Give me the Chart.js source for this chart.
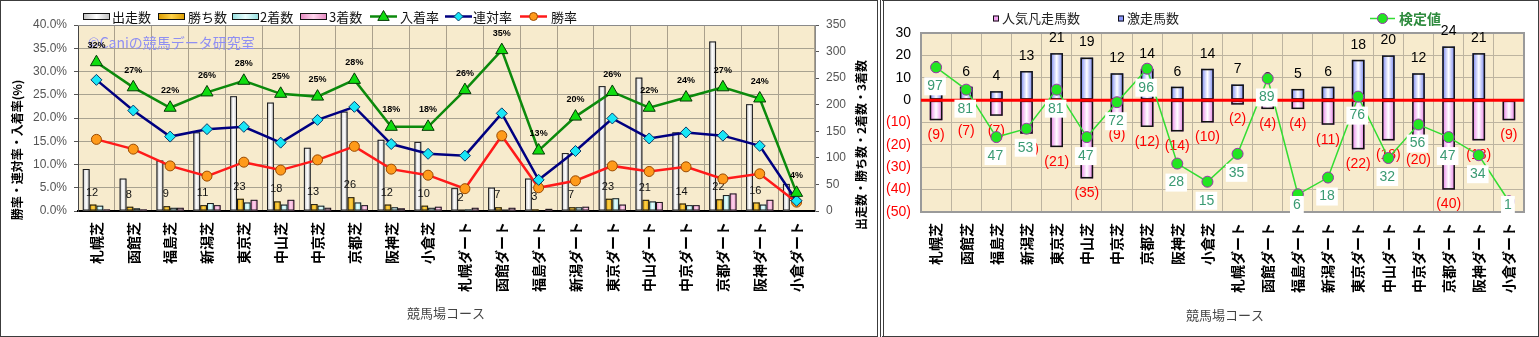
<!DOCTYPE html>
<html lang="ja">
<head>
<meta charset="utf-8">
<title>競馬場コース別成績</title>
<script src="https://cdn.jsdelivr.net/npm/chart.js@4.4.1/dist/chart.umd.min.js"></script>
<style>
  html, body { margin: 0; padding: 0; background: #fff; }
  body { width: 1539px; height: 337px; position: relative; overflow: hidden; }
  .panel { position: absolute; top: 0; box-sizing: border-box; height: 337px; border: 1px solid #3c3c3c; }
  #panelLeft { left: 0; width: 878px; }
  #panelRight { left: 880px; width: 659px; border-left: 4px double #3c3c3c; }
  canvas { display: block; }
</style>
</head>
<body>
<div class="panel" id="panelLeft"><canvas id="chartLeft" width="876" height="335"></canvas></div>
<div class="panel" id="panelRight"><canvas id="chartRight" width="654" height="335"></canvas></div>

<script>
const courses = ['札幌芝', '函館芝', '福島芝', '新潟芝', '東京芝', '中山芝', '中京芝', '京都芝', '阪神芝', '小倉芝',
  '札幌ダート', '函館ダート', '福島ダート', '新潟ダート', '東京ダート', '中山ダート', '中京ダート', '京都ダート', '阪神ダート', '小倉ダート'];

// 出走数・着別回数（右軸）
const starts  = [79, 61, 95, 148, 216, 204, 119, 187, 134, 130, 43, 44, 61, 109, 235, 251, 148, 319, 201, 51];
const wins    = [12, 8, 9, 11, 23, 18, 13, 26, 12, 10, 2, 7, 3, 7, 23, 21, 14, 22, 16, 1];
const seconds = [10, 5, 6, 15, 16, 12, 10, 16, 7, 6, 3, 2, 1, 7, 24, 18, 11, 30, 12, 0];
const thirds  = [3, 3, 6, 11, 21, 21, 6, 11, 5, 8, 6, 6, 4, 8, 12, 17, 11, 33, 21, 1];

// 勝率・連対率・入着率（左軸, %）
const placeRate    = [32.0, 26.6, 22.2, 25.5, 28.0, 25.2, 24.6, 28.2, 18.1, 18.1, 26.0, 34.6, 13.0, 20.3, 25.6, 22.2, 24.4, 26.6, 24.2, 3.9];
const quinellaRate = [28.2, 21.6, 16.0, 17.6, 18.1, 14.7, 19.6, 22.4, 14.4, 12.3, 11.9, 21.0, 6.7, 12.9, 19.9, 15.6, 16.9, 16.2, 14.0, 2.2];
const winRate      = [15.4, 13.3, 9.7, 7.5, 10.5, 8.8, 11.0, 13.9, 9.0, 7.7, 4.8, 16.2, 5.0, 6.5, 9.7, 8.5, 9.5, 6.9, 8.0, 1.9];

// 人気凡走馬数（マイナス表示）・激走馬数・検定値
const popularFlops = [-9, -7, -7, -15, -21, -35, -9, -12, -14, -10, -2, -4, -4, -11, -22, -18, -20, -40, -18, -9];
const longshots    = [8, 6, 4, 13, 21, 19, 12, 14, 6, 14, 7, 3, 5, 6, 18, 20, 12, 24, 21, 0];
const testValues   = [97, 81, 47, 53, 81, 47, 72, 96, 28, 15, 35, 89, 6, 18, 76, 32, 56, 47, 34, 1];

// 軸の目盛り
const rateAxis  = { min: 0, max: 40, step: 5 };
const countAxis = { min: 0, max: 350, step: 50 };
const horseAxis = { min: -50, max: 30, step: 10 };
const testAxis  = { min: -6.7, max: 121.6 };

const JP = "'Noto Sans CJK JP', sans-serif";
const LAT = "'Liberation Sans', Arial, sans-serif";
const PLOT_BG = '#f7ebcd';

Chart.defaults.animation = false;
Chart.defaults.font.family = JP;

// ---- 共通プラグイン ----
const plotBg = {
  id: 'plotBg',
  beforeDraw(chart) {
    const { ctx, chartArea: a } = chart;
    ctx.save();
    ctx.fillStyle = PLOT_BG;
    ctx.fillRect(a.left, a.top, a.right - a.left, a.bottom - a.top);
    ctx.restore();
  }
};

// 円柱風のグラデーションで棒を塗り直す
const cylinderBars = {
  id: 'cylinderBars',
  afterDatasetDraw(chart, args) {
    const ds = chart.data.datasets[args.index];
    if (!ds.gradient) return;
    const c = chart.ctx;
    c.save();
    args.meta.data.forEach(bar => {
      const { x, y, base, width } = bar.getProps(['x', 'y', 'base', 'width'], true);
      const h = Math.abs(base - y);
      if (h < 0.5) return;
      const left = x - width / 2, top = Math.min(y, base);
      const g = c.createLinearGradient(left, 0, left + width, 0);
      g.addColorStop(0, ds.gradient[0]);
      g.addColorStop(0.5, ds.gradient[1]);
      g.addColorStop(1, ds.gradient[0]);
      c.fillStyle = g;
      c.fillRect(left, top, width, h);
      c.lineWidth = ds.borderWidth;
      c.strokeStyle = ds.borderColor;
      const o = ds.borderWidth / 2;
      c.strokeRect(left + o, top + o, width - 2 * o, h - 2 * o);
    });
    c.restore();
  }
};

function marker(c, style, x, y, r, fill, stroke) {
  c.save();
  c.fillStyle = fill;
  c.strokeStyle = stroke;
  c.lineWidth = 1;
  c.beginPath();
  if (style === 'triangle') {
    c.moveTo(x, y - r);
    c.lineTo(x + r * 0.95, y + r * 0.65);
    c.lineTo(x - r * 0.95, y + r * 0.65);
    c.closePath();
  } else if (style === 'rectRot') {
    c.moveTo(x, y - r); c.lineTo(x + r, y); c.lineTo(x, y + r); c.lineTo(x - r, y); c.closePath();
  } else {
    c.arc(x, y, r, 0, Math.PI * 2);
  }
  c.fill();
  c.stroke();
  c.restore();
}

function text(c, str, x, y, font, color, align = 'left', rot = 0) {
  c.save();
  c.font = font;
  c.fillStyle = color;
  c.textAlign = align;
  c.textBaseline = 'middle';
  c.translate(x, y);
  if (rot) c.rotate(rot);
  c.fillText(str, 0, 0);
  c.restore();
}

// ---- 左：出走数と各率 ----
const leftLegend = [
  { x: 82, tx: 111 }, { x: 157, tx: 187 }, { x: 231, tx: 259 }, { x: 299, tx: 328 },
  { x: 369, tx: 399 }, { x: 444, tx: 472 }, { x: 519, tx: 550 }
];

const leftDecor = {
  id: 'leftDecor',
  beforeDatasetsDraw(chart) {
    const { ctx, chartArea: a } = chart;
    ctx.save();
    ctx.strokeStyle = '#8a8a8a';
    ctx.lineWidth = 1;
    ctx.beginPath();
    ctx.moveTo(a.left, a.top + 0.5); ctx.lineTo(a.right + 0.5, a.top + 0.5);
    ctx.lineTo(a.right + 0.5, a.bottom);
    ctx.stroke();
    ctx.restore();
    text(ctx, '©Caniの競馬データ研究室', 87, 42, `14px ${JP}`, '#8f8ff2');
  },
  afterDatasetDraw(chart, args) {
    // 最後の棒（出走数）を描いた後に勝ち数のラベル
    if (args.index !== 0) return;
    const meta = chart.getDatasetMeta(1);
    meta.data.forEach((el, i) => {
      text(chart.ctx, String(wins[i]), el.x - 1, el.y - 12, `11px ${LAT}`, '#111', 'center');
    });
  },
  afterDatasetsDraw(chart) {
    const meta = chart.getDatasetMeta(4);
    meta.data.forEach((el, i) => {
      text(chart.ctx, Math.round(placeRate[i]) + '%', el.x, el.y - 17, `bold 9px ${LAT}`, '#000', 'center');
    });
  },
  afterDraw(chart) {
    const c = chart.ctx;
    const y = 15.5;
    chart.data.datasets.forEach((ds, i) => {
      const p = leftLegend[i];
      if (ds.type === 'bar') {
        const g = c.createLinearGradient(p.x, 0, p.x + 27, 0);
        g.addColorStop(0, ds.gradient[0]); g.addColorStop(0.5, ds.gradient[1]); g.addColorStop(1, ds.gradient[0]);
        c.fillStyle = g;
        c.fillRect(p.x, y - 3.5, 27, 7);
        c.strokeStyle = '#111';
        c.lineWidth = 1;
        c.strokeRect(p.x + 0.5, y - 3, 26, 6);
      } else {
        c.save();
        c.strokeStyle = ds.borderColor;
        c.lineWidth = 2.5;
        c.beginPath(); c.moveTo(p.x, y); c.lineTo(p.x + 27, y); c.stroke();
        c.restore();
        marker(c, ds.pointStyle, p.x + 13.5, y, ds.pointRadius - 1, ds.pointBackgroundColor, ds.pointBorderColor);
      }
      text(c, ds.label, p.tx, y + 0.5, `13px ${JP}`, '#111');
    });
    text(c, '勝率・連対率・入着率(%)', 16, 149, `bold 12px ${JP}`, '#000', 'center', -Math.PI / 2);
    text(c, '出走数・勝ち数・2着数・3着数', 860, 144, `bold 12px ${JP}`, '#000', 'center', -Math.PI / 2);
    text(c, '競馬場コース', 445, 312, `13px ${JP}`, '#444', 'center');
  }
};

const barStyle = { borderColor: '#1a1a1a', borderWidth: 1, borderSkipped: false, yAxisID: 'y1', order: 1 };
const lineStyle = { type: 'line', yAxisID: 'y', borderWidth: 2.5, tension: 0, order: 0, pointBorderWidth: 1 };

new Chart(document.getElementById('chartLeft'), {
  type: 'bar',
  data: {
    labels: courses,
    datasets: [
      { ...barStyle, type: 'bar', label: '出走数', data: starts, backgroundColor: '#f2f2f2', gradient: ['#bdbdbd', '#ffffff'] },
      { ...barStyle, type: 'bar', label: '勝ち数', data: wins, backgroundColor: '#f0b400', gradient: ['#d99a00', '#ffd24a'] },
      { ...barStyle, type: 'bar', label: '2着数', data: seconds, backgroundColor: '#bff4f4', gradient: ['#92dede', '#eaffff'] },
      { ...barStyle, type: 'bar', label: '3着数', data: thirds, backgroundColor: '#f3a6d4', gradient: ['#e486bf', '#ffd6ee'] },
      { ...lineStyle, label: '入着率', data: placeRate, borderColor: '#0c8a0c', pointStyle: 'triangle', pointRadius: 7,
        pointBackgroundColor: '#10dd10', pointBorderColor: '#053805' },
      { ...lineStyle, label: '連対率', data: quinellaRate, borderColor: '#000080', pointStyle: 'rectRot', pointRadius: 5.5,
        pointBackgroundColor: '#18e6f6', pointBorderColor: '#0a3a6a' },
      { ...lineStyle, label: '勝率', data: winRate, borderColor: '#ff1a1a', pointStyle: 'circle', pointRadius: 5,
        pointBackgroundColor: '#ff9a1a', pointBorderColor: '#9a4a00' }
    ]
  },
  options: {
    responsive: false,
    layout: { padding: { top: 24, left: 0, right: 0, bottom: 0 } },
    datasets: { bar: { categoryPercentage: 0.74, barPercentage: 1 } },
    plugins: { legend: { display: false }, tooltip: { enabled: false } },
    scales: {
      x: {
        afterFit: s => { s.height = 125; },
        grid: { color: '#aaa08c', borderDash: [2, 2], drawTicks: false },
        border: { color: '#000', width: 2 },
        ticks: { minRotation: 90, maxRotation: 90, autoSkip: false, padding: 11, color: '#000',
          font: { family: JP, size: 14, weight: 'bold' } }
      },
      y: {
        position: 'left',
        min: rateAxis.min, max: rateAxis.max,
        afterFit: s => { s.width = 77; },
        grid: { color: '#a8a290', borderDash: [3, 2], tickLength: 4, tickColor: '#555', tickBorderDash: [] },
        border: { color: '#444', width: 1 },
        ticks: { stepSize: rateAxis.step, padding: 7, color: '#555', font: { family: LAT, size: 12 },
          callback: v => v.toFixed(1) + '%' }
      },
      y1: {
        position: 'right',
        min: countAxis.min, max: countAxis.max,
        afterFit: s => { s.width = 62; },
        grid: { drawOnChartArea: false, tickLength: 4, tickColor: '#555' },
        border: { color: '#8a8a8a', width: 1 },
        ticks: { stepSize: countAxis.step, padding: 7, color: '#555', font: { family: LAT, size: 12 } }
      }
    }
  },
  plugins: [plotBg, cylinderBars, leftDecor]
});

// ---- 右：人気凡走・激走と検定値 ----
const rightDecor = {
  id: 'rightDecor',
  beforeDatasetsDraw(chart) {
    const { ctx, chartArea: a } = chart;
    ctx.save();
    ctx.strokeStyle = '#9a9a9a';
    ctx.lineWidth = 2;
    ctx.strokeRect(a.left, a.top, a.right - a.left, a.bottom - a.top);
    ctx.restore();
  },
  beforeDatasetDraw(chart, args) {
    // 棒を描き終えたところでゼロ線と棒のラベル
    if (args.index !== 0) return;
    const { ctx, chartArea: a, scales } = chart;
    const y0 = scales.y.getPixelForValue(0);
    ctx.save();
    ctx.strokeStyle = '#ff0000';
    ctx.lineWidth = 3;
    ctx.beginPath(); ctx.moveTo(a.left, y0); ctx.lineTo(a.right, y0); ctx.stroke();
    ctx.restore();
    chart.getDatasetMeta(1).data.forEach((el, i) => {
      text(ctx, '(' + Math.abs(popularFlops[i]) + ')', el.x, el.y + 15, `14px ${LAT}`, '#ff0000', 'center');
    });
    chart.getDatasetMeta(2).data.forEach((el, i) => {
      if (longshots[i] > 0) text(ctx, String(longshots[i]), el.x, el.y - 15, `14px ${LAT}`, '#000', 'center');
    });
  },
  afterDatasetsDraw(chart) {
    const c = chart.ctx;
    c.save();
    c.font = `14px ${LAT}`;
    chart.getDatasetMeta(0).data.forEach((el, i) => {
      const s = String(testValues[i]);
      const w = c.measureText(s).width;
      const y = Math.min(el.y + 19, 204);
      c.fillStyle = '#ffffff';
      c.fillRect(el.x - 1 - w / 2 - 3, y - 9, w + 6, 18);
      text(c, s, el.x - 1, y, `14px ${LAT}`, '#3a9a72', 'center');
    });
    c.restore();
  },
  afterDraw(chart) {
    const c = chart.ctx;
    const y = 17.5;
    const sq = (x, fill) => {
      c.fillStyle = fill; c.fillRect(x, y - 3, 6, 6);
      c.strokeStyle = '#111'; c.lineWidth = 1; c.strokeRect(x + 0.5, y - 2.5, 5, 5);
    };
    sq(109, '#f2a0f2');
    text(c, '人気凡走馬数', 118, y, `13px ${JP}`, '#222');
    sq(234, '#8c98ff');
    text(c, '激走馬数', 243, y, `13px ${JP}`, '#222');
    c.save();
    c.strokeStyle = '#33dd33'; c.lineWidth = 1.5;
    c.beginPath(); c.moveTo(486, y); c.lineTo(511, y); c.stroke();
    c.restore();
    marker(c, 'circle', 498.5, y, 5, '#22e622', '#9933aa');
    text(c, '検定値', 515, y, `bold 14px ${JP}`, '#2e8b3e');
    text(c, '競馬場コース', 341, 314, `13px ${JP}`, '#444', 'center');
  }
};

new Chart(document.getElementById('chartRight'), {
  type: 'bar',
  data: {
    labels: courses,
    datasets: [
      { type: 'line', label: '検定値', data: testValues, yAxisID: 'y2', order: 0, tension: 0,
        borderColor: '#33dd33', borderWidth: 1.5, pointRadius: 5.5,
        pointBackgroundColor: '#22e622', pointBorderColor: '#9933aa', pointBorderWidth: 1 },
      { type: 'bar', label: '人気凡走馬数', data: popularFlops, yAxisID: 'y', order: 1,
        backgroundColor: '#f2a0f2', borderColor: '#111', borderWidth: 1.5, borderSkipped: false,
        gradient: ['#e77ce7', '#ffffff'] },
      { type: 'bar', label: '激走馬数', data: longshots, yAxisID: 'y', order: 1,
        backgroundColor: '#8c98ff', borderColor: '#111', borderWidth: 1.5, borderSkipped: false,
        gradient: ['#6f7ff2', '#ffffff'] }
    ]
  },
  options: {
    responsive: false,
    layout: { padding: { top: 32, left: 0, right: 14, bottom: 0 } },
    datasets: { bar: { categoryPercentage: 1, barPercentage: 0.42 } },
    plugins: { legend: { display: false }, tooltip: { enabled: false } },
    scales: {
      x: {
        stacked: true,
        afterFit: s => { s.height = 124; },
        grid: { color: '#bdb4a0', borderDash: [2, 2], drawTicks: false },
        border: { display: false },
        ticks: { minRotation: 90, maxRotation: 90, autoSkip: false, padding: 11, color: '#000',
          font: { family: JP, size: 14, weight: 'bold' } }
      },
      y: {
        stacked: true,
        min: horseAxis.min, max: horseAxis.max,
        afterFit: s => { s.width = 37; },
        grid: { color: '#bdb4a0', borderDash: [2, 2], drawTicks: false },
        border: { display: false },
        ticks: { stepSize: horseAxis.step, padding: 10, font: { family: LAT, size: 14 },
          color: c => c.tick.value < 0 ? '#ff0000' : '#000',
          callback: v => v < 0 ? '(' + (-v) + ')' : String(v) }
      },
      y2: { display: false, min: testAxis.min, max: testAxis.max }
    }
  },
  plugins: [plotBg, cylinderBars, rightDecor]
});
</script>
</body>
</html>
